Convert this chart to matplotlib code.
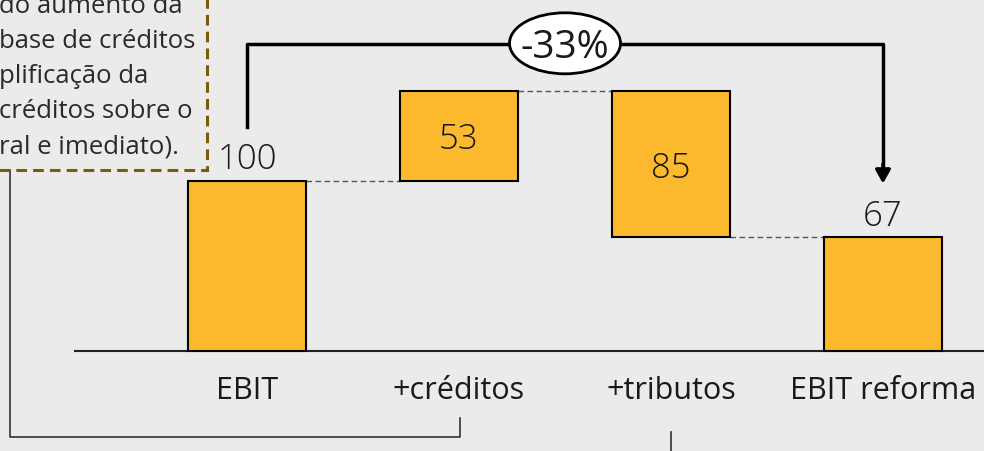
import matplotlib

matplotlib.use("Agg")
import matplotlib.pyplot as plt
from matplotlib.patches import Ellipse, Rectangle

categories = ["EBIT", "+créditos", "+tributos", "EBIT reforma"]
ebit = 100
creditos = 53
tributos = 85
ebit_reforma = 67
variation_label = "-33%"
note_lines = [
    "do aumento da",
    "base de créditos",
    "plificação da",
    "créditos sobre o",
    "ral e imediato).",
]

BG = "#ebebeb"
BAR = "#fdb92e"
TEXT = "#1a1a1a"
FONT = ["Open Sans", "DejaVu Sans"]

W, H = 984, 451
fig = plt.figure(figsize=(W / 100, H / 100), dpi=100, facecolor=BG)
ax = fig.add_axes([0, 0, 1, 1])
ax.set_facecolor(BG)
ax.set_axis_off()

# scale: 212 px per category, 1.7 px per unit, baseline 351 px from top
ax.set_xlim(-247 / 212, (W - 247) / 212)
ax.set_ylim(-(H - 351) / 1.7, 351 / 1.7)

top_creditos = ebit + creditos
bottoms = [0, ebit, ebit_reforma, 0]
heights = [ebit, creditos, top_creditos - ebit_reforma, ebit_reforma]
xs = range(len(categories))
width = 118 / 212

ax.bar(xs, heights, bottom=bottoms, width=width, color=BAR,
       edgecolor="black", linewidth=1.5, zorder=3)

# baseline
ax.plot([-0.81, 3.6], [0, 0], color="#222222", lw=1.5, zorder=2)

# dashed connectors between bars
half = width / 2
links = [(0, 1, ebit), (1, 2, top_creditos), (2, 3, ebit_reforma)]
for a, b, level in links:
    ax.plot([a + half, b - half], [level, level], color="#555555",
            lw=1, ls=(0, (4, 2.5)), zorder=2)

# value labels
num_style = dict(fontsize=25, color=TEXT, family=FONT, fontweight="light")
ax.text(0, ebit + 2.5, str(ebit), ha="center", va="bottom", **num_style)
ax.text(1, ebit + creditos / 2, str(creditos), ha="center",
        va="center_baseline", **num_style)
ax.text(2, top_creditos - tributos / 2 - 1, str(tributos), ha="center",
        va="center_baseline", **num_style)
ax.text(3, ebit_reforma + 2, str(ebit_reforma), ha="center", va="bottom",
        **num_style)

# category labels
for x, label in zip(xs, categories):
    ax.text(x, -23.5, label, ha="center", va="center", fontsize=22,
            color=TEXT, family=FONT)

# bracket with variation
y_top = 180.5
ax.plot([0, 0, 1.49], [131.5, y_top, y_top], color="black", lw=2.5, zorder=4)
ax.plot([1.49, 3, 3], [y_top, y_top, 108], color="black", lw=2.5, zorder=4)
ax.annotate("", xy=(3, 98.5), xytext=(3, 110),
            arrowprops=dict(arrowstyle="-|>,head_length=0.8,head_width=0.45",
                            color="black", lw=2.5, shrinkA=0, shrinkB=0),
            zorder=5)
ax.add_patch(Ellipse((1.5, y_top + 0.5), 111 / 212, 61 / 1.7,
                     facecolor="white", edgecolor="black", lw=2, zorder=5))
ax.text(1.5, y_top + 0.5, variation_label, ha="center", va="center_baseline",
        fontsize=28, color=TEXT, family=FONT, zorder=6)

# note box (cut by the image edge)
box_right = -0.19
box_bottom = 106.5
ax.add_patch(Rectangle((-1.3, box_bottom), box_right + 1.3, 120,
                       facecolor="none", edgecolor="#7a5c0c", lw=2.2,
                       ls=(0, (3.5, 2)), zorder=4))
for i, line in enumerate(note_lines):
    ax.text(-1.168, 202.4 - i * 20.6, line, ha="left", va="center",
            fontsize=18.5, color="#2a2a2a", family=FONT)

# thin connectors under the chart
ax.plot([-1.118, -1.118, 1.005, 1.005], [box_bottom, -50.6, -50.6, -39.4],
        color="#333333", lw=1.2, zorder=2)
ax.plot([2.0, 2.0], [-47.6, -62], color="#333333", lw=1.2, zorder=2)

fig.savefig("out.png", dpi=100, facecolor=BG)
